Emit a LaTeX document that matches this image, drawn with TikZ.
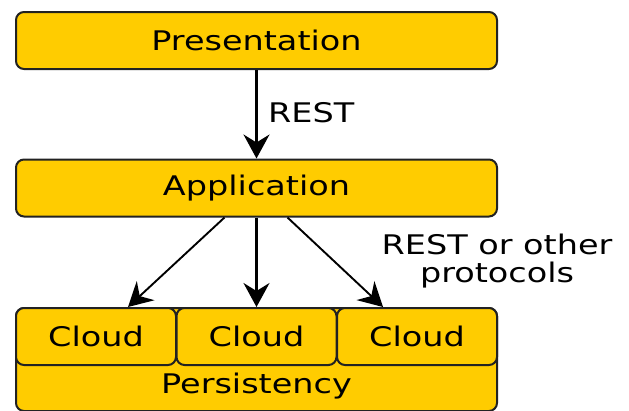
\documentclass[tikz,border=0pt]{standalone}
\usepackage{fontspec}
\setmainfont{DejaVu Sans}[FakeStretch=1.24]
\usetikzlibrary{arrows.meta}
\definecolor{boxfill}{HTML}{FFCC00}
\definecolor{edge}{HTML}{222222}
\begin{document}
\begin{tikzpicture}[x=1pt,y=1pt,
  layerbox/.style={draw=edge, fill=boxfill, line width=2pt, rounded corners=8pt,
    inner sep=0pt, minimum width=481pt, minimum height=57pt,
    font=\fontsize{27}{30}\selectfont, text=black},
  cloudbox/.style={layerbox, minimum width=160pt, minimum height=57pt},
  lbl/.style={font=\fontsize{27}{28}\selectfont, text=black, inner sep=0pt},
  conn/.style={draw=black, line width=2.4pt, -{Stealth[length=24pt,width=26pt,inset=8pt]}}]
\useasboundingbox (0,0) rectangle (629,-410);
\node[layerbox] (pres) at (256.5,-40.5) {Presentation};
\node[layerbox] (app) at (256.5,-188) {Application};
\node[layerbox, minimum height=103pt] (pers) at (256.5,-359.5) {};
\node[lbl] (perstext) at (256.5,-386) {Persistency};
\node[cloudbox] (c1) at (96,-336.5) {Cloud};
\node[cloudbox] (c2) at (256.5,-336.5) {Cloud};
\node[cloudbox] (c3) at (417,-336.5) {Cloud};
\draw[conn] (pres.south) -- (app.north);
\node[lbl, anchor=west] (rest) at (268,-113) {REST};
\draw[conn, line width=1.9pt] ([xshift=-32pt]app.south) -- ([xshift=32pt]c1.north);
\draw[conn] (app.south) -- (c2.north);
\draw[conn, line width=1.9pt] ([xshift=31pt]app.south) -- ([xshift=-34pt]c3.north);
\node[lbl, align=center] (proto) at (497,-261) {REST or other\\protocols};
\end{tikzpicture}
\end{document}
